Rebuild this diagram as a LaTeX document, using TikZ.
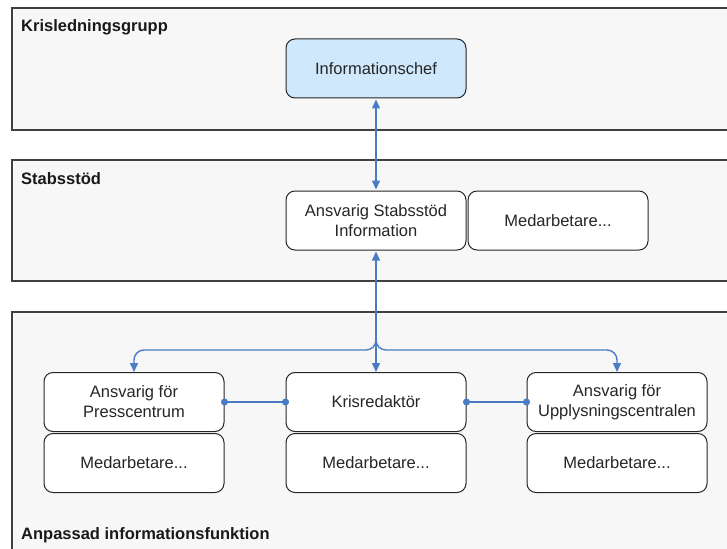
\documentclass[tikz,border=0pt]{standalone}
\usepackage{fontspec}
\setmainfont{Liberation Sans}
\usepackage{tikz}
\usetikzlibrary{arrows.meta,calc,positioning}
\definecolor{panelgray}{HTML}{F7F7F7}
\definecolor{linkblue}{HTML}{4A7CC6}
\definecolor{chefblue}{HTML}{CFE8FC}
\tikzset{
  panel/.style={fill=panelgray, draw=black!75, line width=1.1pt},
  ptitle/.style={anchor=west, inner sep=0pt, font=\fontsize{16.5}{20}\selectfont\bfseries, text=black!90},
  rolebox/.style={draw=black!85, line width=1pt, fill=white, rounded corners=9pt,
    minimum width=180pt, minimum height=59pt, align=center, inner sep=2pt,
    font=\fontsize{16.5}{20}\selectfont, text=black!85},
  link/.style={draw=linkblue, line width=1.4pt, >={Triangle[length=9pt,width=8pt]}},
  dots/.style={draw=linkblue, line width=1.4pt, {Circle[length=7pt]}-{Circle[length=7pt]},
    shorten <=-3.5pt, shorten >=-3.5pt}
}
\begin{document}
\begin{tikzpicture}[x=1pt,y=-1pt]
        \useasboundingbox (0,0) rectangle (727,548);
        \clip (0,0) rectangle (727,548);
        % panels
        \draw[panel] (12,8) rectangle (740,130);
        \draw[panel] (12,160) rectangle (740,281);
        \draw[panel] (12,312) rectangle (740,560);
        \node[ptitle] (krisgrupp) at (21,27) {Krisledningsgrupp};
        \node[ptitle] (stab) at (21,179) {Stabsstöd};
        \node[ptitle] (anpassad) at (21,535) {Anpassad informationsfunktion};
        % roles
        \node[rolebox, fill=chefblue] (chef) at (376,68.5) {Informationschef};
        \node[rolebox] (ansv) at (376,220.5) {Ansvarig Stabsstöd\\Information};
        \node[rolebox, right=1pt of ansv] (stabmed) {Medarbetare...};
        \node[rolebox] (kris) at (376,402) {Krisredaktör};
        \node[rolebox] (press) at (134,402) {Ansvarig för\\Presscentrum};
        \node[rolebox] (upply) at (617,402) {Ansvarig för\\Upplysningscentralen};
        \node[rolebox, below=1pt of press] (pressmed) {Medarbetare...};
        \node[rolebox, below=1pt of kris] (krismed) {Medarbetare...};
        \node[rolebox, below=1pt of upply] (upplymed) {Medarbetare...};
        % links
        \coordinate (split) at ([yshift=22pt]kris.north);
        \draw[link,<->] ([yshift=-1pt]chef.south) -- ([yshift=1pt]ansv.north);
        \draw[link,<->] ([yshift=-1pt]ansv.south) -- (kris.north);
        \draw[link,->,rounded corners=10pt] ([yshift=12pt]split) -- (split) -- (press.north |- split) -- (press.north);
        \draw[link,->,rounded corners=10pt] ([yshift=12pt]split) -- (split) -- (upply.north |- split) -- (upply.north);
        \draw[dots] (press.east) -- (kris.west);
        \draw[dots] (kris.east) -- (upply.west);
\end{tikzpicture}
\end{document}
